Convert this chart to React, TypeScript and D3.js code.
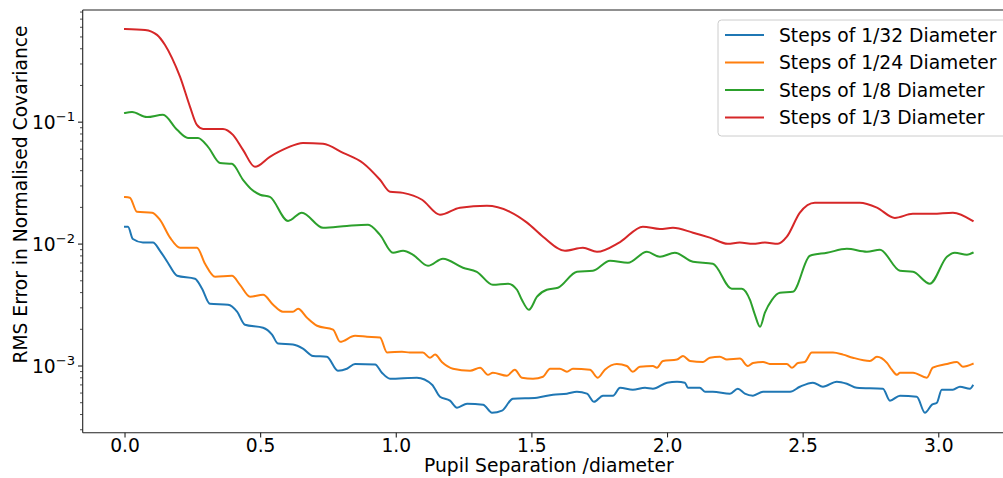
import React from "react";
import * as d3 from "d3";

const W = 1003;
const H = 478;

const seriesNames = [
  "Steps of 1/32 Diameter",
  "Steps of 1/24 Diameter",
  "Steps of 1/8 Diameter",
  "Steps of 1/3 Diameter",
];
const seriesColors = ["#1f77b4", "#ff7f0e", "#2ca02c", "#d62728"];

const xTicks = [0, 0.5, 1.0, 1.5, 2.0, 2.5, 3.0];
const yTickExps = [-3, -2, -1];

// Steps of 1/32 Diameter
const x32 = [0, 0.011, 0.029, 0.066, 0.103, 0.129, 0.158, 0.192, 0.258, 0.284, 0.313, 0.38, 0.413, 0.442, 0.509, 0.542, 0.564, 0.619, 0.656, 0.693, 0.744, 0.785, 0.818, 0.848, 0.922, 0.947, 0.977, 1.076, 1.132, 1.161, 1.198, 1.224, 1.261, 1.32, 1.353, 1.39, 1.43, 1.519, 1.578, 1.629, 1.666, 1.703, 1.729, 1.762, 1.799, 1.825, 1.872, 1.917, 1.946, 1.998, 2.035, 2.064, 2.075, 2.119, 2.138, 2.167, 2.23, 2.259, 2.285, 2.315, 2.352, 2.452, 2.488, 2.536, 2.573, 2.624, 2.661, 2.698, 2.794, 2.82, 2.857, 2.919, 2.949, 2.975, 2.993, 3.011, 3.052, 3.078, 3.115, 3.125];
const y32 = [0.0139, 0.0139, 0.011, 0.0103, 0.0103, 0.00881, 0.00703, 0.0055, 0.0052, 0.00431, 0.00324, 0.00318, 0.00279, 0.00218, 0.00206, 0.00181, 0.00153, 0.0015, 0.00139, 0.00121, 0.00119, 0.000914, 0.00095, 0.00104, 0.00103, 0.000881, 0.000787, 0.000802, 0.000703, 0.00056, 0.00052, 0.000455, 0.000491, 0.000482, 0.000414, 0.000431, 0.00054, 0.00055, 0.000582, 0.000593, 0.000615, 0.000593, 0.000509, 0.000571, 0.000571, 0.000664, 0.00064, 0.000664, 0.000652, 0.00073, 0.000743, 0.00073, 0.000664, 0.000664, 0.000615, 0.000615, 0.000593, 0.000652, 0.000593, 0.000571, 0.000615, 0.000615, 0.000676, 0.00073, 0.000676, 0.000743, 0.000716, 0.000664, 0.000652, 0.00052, 0.000571, 0.00056, 0.000414, 0.000482, 0.0005, 0.00064, 0.00064, 0.000676, 0.000652, 0.00069];

// Steps of 1/24 Diameter
const x24 = [0, 0.018, 0.044, 0.1, 0.129, 0.166, 0.203, 0.265, 0.295, 0.332, 0.394, 0.424, 0.461, 0.509, 0.546, 0.582, 0.619, 0.638, 0.671, 0.708, 0.767, 0.793, 0.848, 0.892, 0.94, 0.966, 1.021, 1.05, 1.098, 1.124, 1.143, 1.168, 1.209, 1.272, 1.309, 1.338, 1.356, 1.408, 1.437, 1.463, 1.504, 1.541, 1.567, 1.603, 1.629, 1.651, 1.714, 1.743, 1.769, 1.813, 1.85, 1.872, 1.898, 1.946, 1.961, 1.983, 2.035, 2.057, 2.083, 2.131, 2.156, 2.193, 2.219, 2.267, 2.296, 2.315, 2.352, 2.377, 2.44, 2.459, 2.481, 2.506, 2.532, 2.588, 2.61, 2.647, 2.683, 2.746, 2.772, 2.809, 2.827, 2.846, 2.857, 2.905, 2.956, 2.978, 3.03, 3.067, 3.089, 3.125];
const y24 = [0.0243, 0.024, 0.0184, 0.0181, 0.0158, 0.0113, 0.00933, 0.00933, 0.0069, 0.0054, 0.0055, 0.00463, 0.0037, 0.00384, 0.00318, 0.00279, 0.00279, 0.00295, 0.00249, 0.00214, 0.00199, 0.00158, 0.00177, 0.00174, 0.00171, 0.00129, 0.00131, 0.00129, 0.00129, 0.00117, 0.00124, 0.00108, 0.00095, 0.000914, 0.000968, 0.000847, 0.000881, 0.000832, 0.000933, 0.000802, 0.000787, 0.000817, 0.00095, 0.00095, 0.000898, 0.00095, 0.000933, 0.000802, 0.000933, 0.00104, 0.001, 0.000898, 0.000986, 0.001, 0.000968, 0.0011, 0.00113, 0.00121, 0.0011, 0.00108, 0.00117, 0.00119, 0.00113, 0.00115, 0.001, 0.00106, 0.00108, 0.00104, 0.00104, 0.000968, 0.00106, 0.00108, 0.00129, 0.00129, 0.00129, 0.00124, 0.00117, 0.0011, 0.00119, 0.00106, 0.000933, 0.000847, 0.000881, 0.000881, 0.000802, 0.000968, 0.00104, 0.00108, 0.000986, 0.00104];

// Steps of 1/8 Diameter
const x8 = [0, 0.026, 0.081, 0.14, 0.192, 0.232, 0.269, 0.306, 0.35, 0.394, 0.435, 0.468, 0.498, 0.534, 0.601, 0.652, 0.73, 0.818, 0.896, 0.94, 0.988, 1.025, 1.062, 1.117, 1.172, 1.246, 1.297, 1.356, 1.412, 1.445, 1.463, 1.489, 1.519, 1.555, 1.596, 1.666, 1.725, 1.788, 1.854, 1.924, 1.972, 2.027, 2.094, 2.167, 2.237, 2.274, 2.304, 2.322, 2.341, 2.359, 2.385, 2.414, 2.462, 2.525, 2.588, 2.661, 2.735, 2.783, 2.857, 2.905, 2.967, 3.03, 3.059, 3.104, 3.125];
const y8 = [0.119, 0.121, 0.11, 0.115, 0.0865, 0.0743, 0.0743, 0.0628, 0.0463, 0.0455, 0.0337, 0.0279, 0.0254, 0.0244, 0.0155, 0.0181, 0.0136, 0.0141, 0.0144, 0.0119, 0.00849, 0.00881, 0.00817, 0.00664, 0.00759, 0.0064, 0.00593, 0.00463, 0.00473, 0.00422, 0.00349, 0.00289, 0.0037, 0.00422, 0.00438, 0.00593, 0.00604, 0.0073, 0.00703, 0.00865, 0.00787, 0.00849, 0.00716, 0.0069, 0.00431, 0.00431, 0.00349, 0.00264, 0.0021, 0.00274, 0.00349, 0.00399, 0.00406, 0.00802, 0.00849, 0.00914, 0.00865, 0.00898, 0.00604, 0.00593, 0.00473, 0.00787, 0.00849, 0.00817, 0.00849];

// Steps of 1/3 Diameter
const x3 = [0, 0.074, 0.118, 0.147, 0.173, 0.203, 0.24, 0.265, 0.288, 0.361, 0.398, 0.435, 0.479, 0.534, 0.597, 0.656, 0.73, 0.804, 0.877, 0.94, 0.977, 1.025, 1.095, 1.161, 1.235, 1.334, 1.419, 1.482, 1.541, 1.622, 1.688, 1.74, 1.825, 1.909, 1.972, 2.02, 2.094, 2.156, 2.222, 2.266, 2.315, 2.359, 2.407, 2.44, 2.488, 2.543, 2.709, 2.772, 2.838, 2.904, 2.978, 3.052, 3.125];
const y3 = [0.582, 0.571, 0.52, 0.431, 0.337, 0.235, 0.133, 0.095, 0.0881, 0.0881, 0.0787, 0.0593, 0.043, 0.052, 0.0615, 0.0676, 0.0664, 0.056, 0.0463, 0.0337, 0.0269, 0.0263, 0.0231, 0.0174, 0.0199, 0.0206, 0.0184, 0.015, 0.0115, 0.00881, 0.00933, 0.00865, 0.0104, 0.0139, 0.0133, 0.0136, 0.0124, 0.0113, 0.01005, 0.0103, 0.01005, 0.0103, 0.01005, 0.0115, 0.0181, 0.0218, 0.0218, 0.0199, 0.0164, 0.0177, 0.0177, 0.0181, 0.0155];

const seriesX = [x32, x24, x8, x3];
const seriesY = [y32, y24, y8, y3];

const FONT = "'DejaVu Sans', sans-serif";

export default function App() {
  const left = 82.7;
  const right = 1015;
  const top = 10;
  const bottom = 432.7;

  const xScale = d3.scaleLinear().domain([-0.156, 3.281]).range([left, right]);
  const yScale = d3
    .scaleLog()
    .domain([Math.pow(10, -3.547), Math.pow(10, -0.08)])
    .range([bottom, top]);

  const line = d3
    .line<[number, number]>()
    .x((d) => xScale(d[0]))
    .y((d) => yScale(d[1]))
    .curve(d3.curveMonotoneX);

  const minorTicks: number[] = [];
  for (let e = -4; e <= 0; e++) {
    for (let m = 2; m <= 9; m++) {
      const v = m * Math.pow(10, e);
      const py = yScale(v);
      if (py >= top && py <= bottom) minorTicks.push(v);
    }
  }

  const legendY = [35, 62.5, 90, 117.5];

  return (
    <>
      <style>{`body{margin:0;}`}</style>
      <svg
        width={W}
        height={H}
        style={{ position: "absolute", left: 0, top: 0, display: "block", background: "#fff" }}
        fontFamily={FONT}
      >
        <defs>
          <clipPath id="plotclip">
            <rect x={left} y={top} width={right - left} height={bottom - top} />
          </clipPath>
        </defs>
        <rect x={0} y={0} width={W} height={H} fill="#fff" />

        <g clipPath="url(#plotclip)">
          {seriesX.map((xs, i) => {
            const pts: [number, number][] = xs.map((x, j) => [x, seriesY[i][j]]);
            return (
              <path
                key={i}
                d={line(pts) || ""}
                fill="none"
                stroke={seriesColors[i]}
                strokeWidth={2}
                strokeLinejoin="round"
                strokeLinecap="square"
              />
            );
          })}
        </g>

        {/* spines */}
        <g stroke="#222" strokeWidth={1.1} fill="none">
          <line x1={left} y1={top} x2={left} y2={bottom} />
          <line x1={left} y1={bottom} x2={right} y2={bottom} />
          <line x1={left} y1={top} x2={right} y2={top} />
          <line x1={right} y1={top} x2={right} y2={bottom} />
        </g>

        {/* x ticks */}
        {xTicks.map((t) => (
          <g key={t}>
            <line x1={xScale(t)} x2={xScale(t)} y1={bottom} y2={bottom + 4.7} stroke="#222" strokeWidth={1.1} />
            <text x={xScale(t)} y={452} textAnchor="middle" fontSize={18.7} fill="#000">
              {t.toFixed(1)}
            </text>
          </g>
        ))}

        {/* y major ticks */}
        {yTickExps.map((e) => {
          const py = yScale(Math.pow(10, e));
          return (
            <g key={e}>
              <line x1={left - 4.7} x2={left} y1={py} y2={py} stroke="#222" strokeWidth={1.1} />
              <text x={75} y={py + 6.5} textAnchor="end" fontSize={18.7} fill="#000">
                <tspan>10</tspan>
                <tspan fontSize={13.1} dy={-8}>{"\u2212" + Math.abs(e)}</tspan>
              </text>
            </g>
          );
        })}
        {minorTicks.map((v, i) => {
          const py = yScale(v);
          return <line key={i} x1={left - 2.7} x2={left} y1={py} y2={py} stroke="#222" strokeWidth={0.8} />;
        })}

        {/* axis labels */}
        <text x={(left + right) / 2} y={472} textAnchor="middle" fontSize={18.7} fill="#000">
          Pupil Separation /diameter
        </text>
        <text
          transform={`translate(27,194.5) rotate(-90)`}
          textAnchor="middle"
          fontSize={18.7}
          fill="#000"
        >
          RMS Error in Normalised Covariance
        </text>

        {/* legend */}
        <rect x={718} y={20} width={290} height={116} rx={3.5} fill="#fff" fillOpacity={0.8} stroke="#cccccc" strokeWidth={1} />
        {seriesNames.map((n, i) => (
          <g key={n}>
            <line x1={725} x2={764} y1={legendY[i]} y2={legendY[i]} stroke={seriesColors[i]} strokeWidth={2} />
            <text x={779} y={legendY[i] + 6.7} fontSize={18.7} fill="#000">
              {n}
            </text>
          </g>
        ))}
      </svg>
    </>
  );
}
